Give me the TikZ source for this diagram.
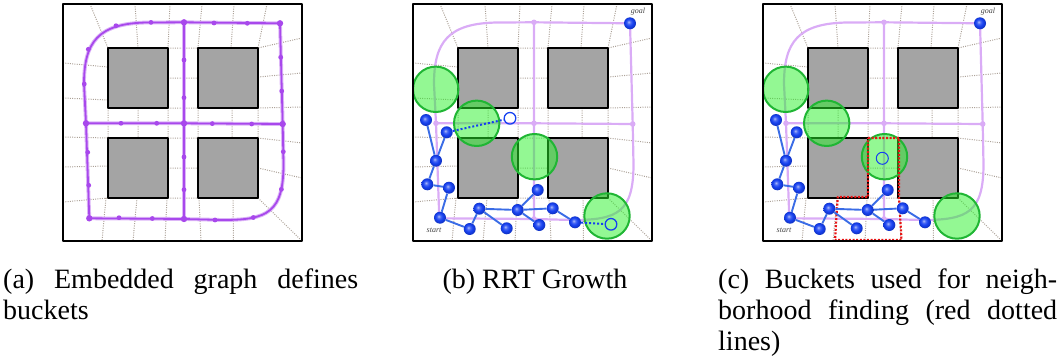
\documentclass[tikz,border=0pt]{standalone}
\usepackage{fontspec}
\setmainfont{Liberation Serif}
\definecolor{gridc}{RGB}{172,162,152}
\definecolor{obst}{RGB}{164,164,164}
\definecolor{purA}{RGB}{168,72,236}
\definecolor{purL}{RGB}{218,172,246}
\definecolor{treeC}{RGB}{58,108,230}
\definecolor{nodeC}{RGB}{22,64,240}
\definecolor{greenF}{RGB}{40,242,40}
\definecolor{greenD}{RGB}{32,182,52}
\definecolor{redC}{RGB}{232,20,20}
\definecolor{lblC}{RGB}{70,70,70}
\pgfdeclareradialshading{blueball}{\pgfpoint{-6bp}{6bp}}{%
  color(0bp)=(nodeC!35!white); color(8bp)=(nodeC!80!white); color(16bp)=(nodeC);
  color(25bp)=(nodeC!82!black); color(50bp)=(nodeC!75!black)}
\tikzset{
  meshline/.style={draw=gridc, line width=1pt, dash pattern=on 1pt off 1.3pt},
  obstacle/.style={fill=obst, draw=black, line width=2pt},
  panelframe/.style={draw=black, line width=2.2pt},
  gA/.style={draw=purA, line width=1.8pt, preaction={draw=purA!40, line width=3.8pt}},
  gL/.style={draw=purL, line width=2.2pt},
  adot/.style={circle, fill=purA, inner sep=0, minimum size=4.8pt},
  ajdot/.style={circle, fill=purA, inner sep=0, minimum size=6.4pt},
  ldot/.style={circle, fill=purL, inner sep=0, minimum size=5.6pt},
  tnode/.style={circle, shading=blueball, inner sep=0, minimum size=12pt},
  tedge/.style={draw=treeC, line width=1.9pt},
  gcirc/.style={circle, inner sep=0, minimum size=45.4pt, fill=greenF, fill opacity=0.5, draw=greenD, line width=2pt},
  hcirc/.style={circle, inner sep=0, minimum size=11.6pt, draw=nodeC, line width=1.3pt},
  dline/.style={draw=nodeC, line width=2pt, dash pattern=on 2pt off 2pt},
  rline/.style={draw=redC, line width=2.2pt, dash pattern=on 2pt off 1.6pt},
  lbl/.style={font=\fontsize{8}{9}\selectfont\itshape, text=lblC, inner sep=0},
  captxt/.style={font=\fontsize{28}{31}\selectfont, inner sep=0, anchor=base west},
}
\newcommand\capline[2]{\makebox[#1pt][s]{#2}}
\newcommand\meshobst{%
  \draw[meshline] (27,0)--(45,44) (72,0)--(75,44) (107,0)--(105,44) (139,0)--(135,44)
    (171,0)--(168,44) (204,0)--(195,44) (239,34)--(195,44)
    (0,59)--(45,63) (0,94)--(45,96) (0,133)--(45,134) (0,163)--(45,162) (0,198)--(45,194)
    (195,73)--(239,69) (195,104)--(239,103) (195,134)--(239,139) (195,164)--(239,174) (195,194)--(239,237)
    (43,194)--(39,237) (74,194)--(70,237) (104,194)--(102,237) (136,194)--(138,237) (170,194)--(170.5,237)
    (105,44)--(135,44) (105,74)--(135,74) (105,104)--(135,104) (105,134)--(135,134) (105,164)--(135,164) (105,194)--(135,194)
    (45,104)--(45,134) (75,104)--(75,134) (105,104)--(105,134) (135,104)--(135,134) (169,104)--(169,134) (195,104)--(195,134);
  \draw[obstacle] (45,44) rectangle (105,104);
  \draw[obstacle] (135,44) rectangle (195,104);
  \draw[obstacle] (45,134) rectangle (105,194);
  \draw[obstacle] (135,134) rectangle (195,194);
}
\newcommand\graphpath[2]{%
  \coordinate (#1TR) at (217,19.3);
  \coordinate (#1TM) at (121,18.3);
  \coordinate (#1LM) at (23,119.3);
  \coordinate (#1CM) at (121,119.3);
  \coordinate (#1RM) at (219.7,120);
  \coordinate (#1BM) at (121,215);
  \coordinate (#1BL) at (26.3,214.3);
  \draw[#2] (#1TR) -- (#1TM) -- (85,18.5) .. controls (35,19) and (21,38) .. (21,80) -- (#1LM) -- (#1BL) -- (#1BM)
     -- (160,216) .. controls (205,216) and (220.5,208) .. (220.5,160) -- (#1RM) -- (#1TR);
  \draw[#2] (#1LM) -- (#1CM) -- (#1RM) (#1TM) -- (#1CM) -- (#1BM);
}
\newcommand\lightdots[1]{%
  \node[ldot] (#1jTM) at (#1TM) {};
  \node[ldot] (#1jLM) at (#1LM) {};
  \node[ldot] (#1jCM) at (#1CM) {};
  \node[ldot] (#1jRM) at (#1RM) {};
  \node[ldot] (#1jBM) at (#1BM) {};
}
\newcommand\rrtree[1]{%
  \node[tnode] (#1n1) at (13,116) {};
  \node[tnode] (#1n2) at (33.7,128.3) {};
  \node[tnode] (#1n3) at (23,156.7) {};
  \node[tnode] (#1n4) at (14.3,180.3) {};
  \node[tnode] (#1n5) at (36,183.7) {};
  \node[tnode] (#1n6) at (27,213.7) {};
  \node[tnode] (#1n7) at (56.7,225) {};
  \node[tnode] (#1n8) at (66.3,204.7) {};
  \node[tnode] (#1n9) at (93.7,224.3) {};
  \node[tnode] (#1n10) at (104.7,206) {};
  \node[tnode] (#1n11) at (124.7,186) {};
  \node[tnode] (#1n12) at (126.3,221) {};
  \node[tnode] (#1n13) at (139.7,204.3) {};
  \node[tnode] (#1n14) at (162,218.3) {};
  \node[tnode] (#1goal) at (217,19.3) {};
  \draw[tedge] (#1n1) -- (#1n3) (#1n2) -- (#1n3) (#1n3) -- (#1n4) (#1n4) -- (#1n5) (#1n5) -- (#1n6)
    (#1n6) -- (#1n7) (#1n7) -- (#1n8) (#1n8) -- (#1n9) (#1n8) -- (#1n10) (#1n10) -- (#1n11)
    (#1n10) -- (#1n12) (#1n10) -- (#1n13) (#1n13) -- (#1n14);
  \node[lbl] (#1goallbl) at (225,8) {goal};
  \node[lbl] (#1startlbl) at (21,226.5) {start};
}
\newcommand\greens[1]{%
  \node[gcirc] (#1c1) at (22.7,85.3) {};
  \node[gcirc] (#1c2) at (63.7,119.3) {};
  \node[gcirc] (#1c3) at (121.5,152.7) {};
  \node[gcirc] (#1c4) at (194,212) {};
}
\begin{document}
\begin{tikzpicture}[x=1pt,y=-1pt,line join=round]
\useasboundingbox (0,0) rectangle (1060,364);
% ---------- panel (a)
\begin{scope}[shift={(63,4)}]
  \meshobst
  \graphpath{a}{gA}
  \node[adot] (ad1) at (53,21.7) {};
  \node[adot] (ad2) at (88,18.4) {};
  \node[adot] (ad3) at (151,19) {};
  \node[adot] (ad4) at (184.3,19.3) {};
  \node[adot] (ad5) at (25.3,45.3) {};
  \node[adot] (ad6) at (21.3,80) {};
  \node[adot] (ad7) at (24.7,148.3) {};
  \node[adot] (ad8) at (25.7,181.3) {};
  \node[adot] (ad9) at (58,119.3) {};
  \node[adot] (ad10) at (93.7,119.3) {};
  \node[adot] (ad11) at (149.3,119.6) {};
  \node[adot] (ad12) at (188.7,120) {};
  \node[adot] (ad13) at (121,56) {};
  \node[adot] (ad14) at (121,93.7) {};
  \node[adot] (ad15) at (121,153) {};
  \node[adot] (ad16) at (121,185.7) {};
  \node[adot] (ad17) at (56,213.7) {};
  \node[adot] (ad18) at (89.3,214.5) {};
  \node[adot] (ad19) at (152,216) {};
  \node[adot] (ad20) at (217.7,53.3) {};
  \node[adot] (ad21) at (218.7,87) {};
  \node[adot] (ad22) at (220.3,147.7) {};
  \node[adot] (ad23) at (218.4,185.3) {};
  \node[adot] (ad24) at (190.3,213.5) {};
  \node[ajdot] (aj1) at (aTM) {};
  \node[ajdot] (aj2) at (aLM) {};
  \node[ajdot] (aj3) at (aCM) {};
  \node[ajdot] (aj4) at (aRM) {};
  \node[ajdot] (aj5) at (aBM) {};
  \node[ajdot] (aj6) at (aBL) {};
  \node[ajdot] (aj7) at (aTR) {};
  \draw[panelframe] (0,0) rectangle (239,237);
\end{scope}
% ---------- panel (b)
\begin{scope}[shift={(413,4)}]
  \meshobst
  \graphpath{b}{gL}
  \lightdots{b}
  \greens{b}
  \rrtree{b}
  \node[hcirc] (bh1) at (97,114.3) {};
  \node[hcirc] (bh2) at (198,220.3) {};
  \draw[dline] (bn2) -- (bh1);
  \draw[dline] (bn14) -- (bh2);
  \draw[panelframe] (0,0) rectangle (239,237);
\end{scope}
% ---------- panel (c)
\begin{scope}[shift={(763,4)}]
  \meshobst
  \graphpath{c}{gL}
  \lightdots{c}
  \greens{c}
  \coordinate (r1) at (105,134);
  \coordinate (r2) at (136,134);
  \coordinate (r3) at (136,193);
  \coordinate (r4) at (138.5,236);
  \coordinate (r5) at (72,236);
  \coordinate (r6) at (74.7,193);
  \coordinate (r7) at (105,193);
  \draw[rline] (r1) -- (r2) -- (r3) -- (r4) -- (r5) -- (r6) -- (r7) -- cycle;
  \node[hcirc, line width=1pt, minimum size=12pt] (ch1) at (119.3,154.3) {};
  \rrtree{c}
  \draw[panelframe] (0,0) rectangle (239,237);
\end{scope}
% ---------- captions
\node[captxt] (capa1) at (3,288) {\capline{355}{(a) Embedded graph defines}};
\node[captxt] (capa2) at (3,319) {buckets};
\node[captxt, anchor=base] (capb) at (535,288) {(b) RRT Growth};
\node[captxt] (capc1) at (718,288) {\capline{339}{(c) Buckets used for neigh-}};
\node[captxt] (capc2) at (718,319) {\capline{339}{borhood finding (red dotted}};
\node[captxt] (capc3) at (718,350) {lines)};
\end{tikzpicture}
\end{document}
